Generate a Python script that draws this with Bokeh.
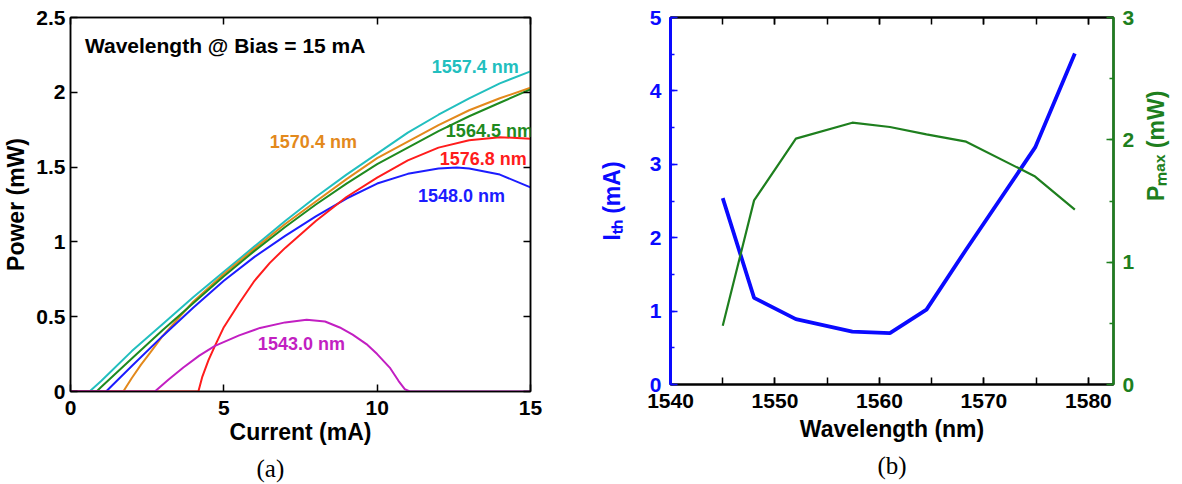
import math
from bokeh.plotting import figure
from bokeh.layouts import row
from bokeh.models import (Range1d, LinearAxis, Label, FixedTicker, SingleIntervalTicker,
                          Title, CustomJSTickFormatter)
from bokeh.embed import file_html
from bokeh.resources import INLINE

# ---------------- Panel (a): Power vs Current ----------------
i_1557 = [0, 0.62, 1, 2, 3, 4, 5, 6, 7, 8, 9, 10, 11, 12, 13, 14, 15]
p_1557 = [0, 0, 0.07, 0.27, 0.45, 0.63, 0.80, 0.97, 1.14, 1.30, 1.45, 1.59, 1.73, 1.85, 1.96, 2.06, 2.14]

i_1570 = [0, 1.72, 2, 2.3, 2.6, 3, 4, 5, 6, 7, 8, 9, 10, 11, 12, 13, 14, 15]
p_1570 = [0, 0, 0.09, 0.18, 0.26, 0.37, 0.60, 0.785, 0.955, 1.12, 1.27, 1.42, 1.56, 1.67, 1.78, 1.88, 1.96, 2.03]

i_1564 = [0, 0.85, 1, 2, 3, 4, 5, 6, 7, 8, 9, 10, 11, 12, 13, 14, 15]
p_1564 = [0, 0, 0.03, 0.22, 0.41, 0.59, 0.77, 0.94, 1.10, 1.25, 1.39, 1.52, 1.63, 1.74, 1.84, 1.93, 2.02]

i_1548 = [0, 1.16, 2, 3, 4, 5, 6, 7, 8, 9, 10, 11, 12, 12.6, 13, 14, 15]
p_1548 = [0, 0, 0.17, 0.37, 0.56, 0.74, 0.90, 1.04, 1.17, 1.29, 1.39, 1.455, 1.49, 1.497, 1.49, 1.45, 1.364]

i_1576 = [0, 4.17, 4.3, 4.5, 4.71, 5, 5.5, 6, 6.5, 7, 8, 9, 10, 11, 12, 13, 14, 15]
p_1576 = [0, 0, 0.10, 0.21, 0.305, 0.43, 0.59, 0.74, 0.86, 0.96, 1.14, 1.30, 1.43, 1.545, 1.63, 1.68, 1.70, 1.69]

i_1543 = [0, 2.75, 3.2, 3.68, 4.2, 4.71, 5.5, 6.18, 7.0, 7.7, 8.3, 8.78, 9.2, 9.65, 10.0, 10.41, 10.7, 10.9, 11.06, 15]
p_1543 = [0, 0, 0.08, 0.16, 0.24, 0.305, 0.375, 0.425, 0.462, 0.48, 0.468, 0.428, 0.38, 0.317, 0.25, 0.16, 0.07, 0.016, 0, 0]

x_ticks_a = [0, 5, 10, 15]
y_ticks_a = [0, 0.5, 1, 1.5, 2, 2.5]
y_labels_a = ["0", "0.5", "1", "1.5", "2", "2.5"]

# ---------------- Panel (b): Ith and Pmax vs wavelength ----------------
wavelength = [1545.0, 1548.0, 1552.0, 1557.4, 1561.0, 1564.5, 1568.3, 1574.9, 1578.7]
i_th = [2.54, 1.18, 0.89, 0.72, 0.70, 1.02, 1.84, 3.23, 4.51]
p_max = [0.48, 1.505, 2.01, 2.14, 2.105, 2.045, 1.985, 1.70, 1.43]

FONT = "Liberation Sans"
SERIF = "Liberation Serif"

C_CYAN = "#22bfbf"
C_ORANGE = "#e3891c"
C_GREEN = "#1f8a1f"
C_RED = "#ff1c1c"
C_BLUE = "#1c1cff"
C_MAG = "#c21fc2"

TICK_FS = "21px"
AXLAB_FS = "23px"


def style_axis(ax, color="black", lw=1.5):
    ax.major_label_text_font = FONT
    ax.major_label_text_font_style = "bold"
    ax.major_label_text_font_size = TICK_FS
    ax.major_label_text_color = color
    ax.axis_label_text_font = FONT
    ax.axis_label_text_font_style = "bold"
    ax.axis_label_text_font_size = AXLAB_FS
    ax.axis_label_text_color = color
    ax.axis_line_color = color
    ax.axis_line_width = lw
    ax.major_tick_line_color = color
    ax.minor_tick_line_color = color
    ax.major_tick_in = 7
    ax.major_tick_out = 0
    ax.minor_tick_in = 4
    ax.minor_tick_out = 0
    ax.major_tick_line_width = 1.5
    ax.minor_tick_line_width = 1.5


def blank_axis(ax):
    ax.formatter = CustomJSTickFormatter(code="return ''")
    ax.major_label_standoff = 0
    ax.axis_label = None


# ---- figure (a)
p1 = figure(frame_width=460, frame_height=374, x_range=Range1d(0, 15), y_range=Range1d(0, 2.5),
            output_backend="svg", toolbar_location=None,
            min_border_left=70, min_border_right=30, min_border_top=17, min_border_bottom=60)
p1.grid.visible = False
p1.outline_line_color = "black"
p1.outline_line_width = 1.5

p1.xaxis.ticker = FixedTicker(ticks=x_ticks_a)
p1.yaxis.ticker = FixedTicker(ticks=y_ticks_a)
p1.yaxis.major_label_overrides = {t: s for t, s in zip(y_ticks_a, y_labels_a)}
p1.xaxis.axis_label = "Current (mA)"
p1.yaxis.axis_label = "Power (mW)"
style_axis(p1.xaxis[0])
style_axis(p1.yaxis[0])
p1.xaxis.major_label_standoff = 9
p1.yaxis.major_label_standoff = 5
p1.xaxis.axis_label_standoff = 1
p1.yaxis.axis_label_standoff = 4

ax_r = LinearAxis(ticker=FixedTicker(ticks=y_ticks_a))
style_axis(ax_r)
blank_axis(ax_r)
p1.add_layout(ax_r, "right")
ax_t = LinearAxis(ticker=FixedTicker(ticks=x_ticks_a))
style_axis(ax_t)
blank_axis(ax_t)
p1.add_layout(ax_t, "above")

LW = 2
p1.line(i_1557, p_1557, line_color=C_CYAN, line_width=LW)
p1.line(i_1570, p_1570, line_color=C_ORANGE, line_width=LW)
p1.line(i_1564, p_1564, line_color=C_GREEN, line_width=LW)
p1.line(i_1548, p_1548, line_color=C_BLUE, line_width=LW)
p1.line(i_1576, p_1576, line_color=C_RED, line_width=LW)
p1.line(i_1543, p_1543, line_color=C_MAG, line_width=LW)


def lab(p, x, y, text, color, size, align="left", baseline="middle"):
    p.add_layout(Label(x=x, y=y, text=text, text_color=color, text_font_size=size,
                       text_font=FONT, text_font_style="bold", text_align=align,
                       text_baseline=baseline))


lab(p1, 0.47, 2.31, "Wavelength @ Bias = 15 mA", "black", "21px")
lab(p1, 11.78, 2.17, "1557.4 nm", C_CYAN, "18px")
lab(p1, 6.5, 1.67, "1570.4 nm", C_ORANGE, "18px")
lab(p1, 12.24, 1.74, "1564.5 nm", C_GREEN, "18px")
lab(p1, 12.04, 1.555, "1576.8 nm", C_RED, "18px")
lab(p1, 11.33, 1.31, "1548.0 nm", C_BLUE, "18px")
lab(p1, 6.11, 0.32, "1543.0 nm", C_MAG, "18px")

cap_a = Title(text="(a)", align="left", offset=186, text_font=SERIF, text_font_size="25px",
              text_font_style="normal", text_color="black", standoff=10)
p1.add_layout(cap_a, "below")

# ---- figure (b)
p2 = figure(frame_width=443, frame_height=367, x_range=Range1d(1540, 1582.4), y_range=Range1d(0, 5),
            output_backend="svg", toolbar_location=None,
            min_border_left=110, min_border_right=66, min_border_top=17, min_border_bottom=60)
p2.grid.visible = False
p2.outline_line_color = "black"
p2.outline_line_width = 2
p2.extra_y_ranges = {"pmax": Range1d(0, 3)}

BLUE2 = "#0a0aff"
GREEN2 = "#1e7f1e"

p2.xaxis.ticker = SingleIntervalTicker(interval=10, num_minor_ticks=2)
p2.yaxis.ticker = SingleIntervalTicker(interval=1, num_minor_ticks=2)
p2.xaxis.axis_label = "Wavelength (nm)"
p2.yaxis.axis_label = "I\u209c\u2095 (mA)"
style_axis(p2.xaxis[0], lw=2)
style_axis(p2.yaxis[0], color=BLUE2, lw=3)
p2.xaxis.major_label_standoff = 9
p2.yaxis.major_label_standoff = 9
p2.xaxis.axis_label_standoff = 5
p2.yaxis.axis_label_standoff = 22
p2.xaxis[0].minor_tick_in = 7

ax_p = LinearAxis(y_range_name="pmax", ticker=SingleIntervalTicker(interval=1, num_minor_ticks=2),
                  axis_label="P\u2098\u2090\u2093 (mW)")
style_axis(ax_p, color=GREEN2, lw=2.5)
ax_p.major_label_standoff = 9
ax_p.axis_label_standoff = 19
if "axis_label_orientation" in ax_p.properties():
    ax_p.axis_label_orientation = math.pi / 2
p2.add_layout(ax_p, "right")

ax_t2 = LinearAxis(ticker=SingleIntervalTicker(interval=10, num_minor_ticks=2))
style_axis(ax_t2, lw=2)
blank_axis(ax_t2)
ax_t2.minor_tick_in = 7
p2.add_layout(ax_t2, "above")

p2.line(wavelength, i_th, line_color=BLUE2, line_width=3.8)
p2.line(wavelength, p_max, line_color=GREEN2, line_width=2.2, y_range_name="pmax")

cap_b = Title(text="(b)", align="center", text_font=SERIF, text_font_size="25px",
              text_font_style="normal", text_color="black", standoff=10)
p2.add_layout(cap_b, "below")

layout = row(p1, p2, spacing=0)
open("out.html", "w").write(file_html(layout, INLINE))
